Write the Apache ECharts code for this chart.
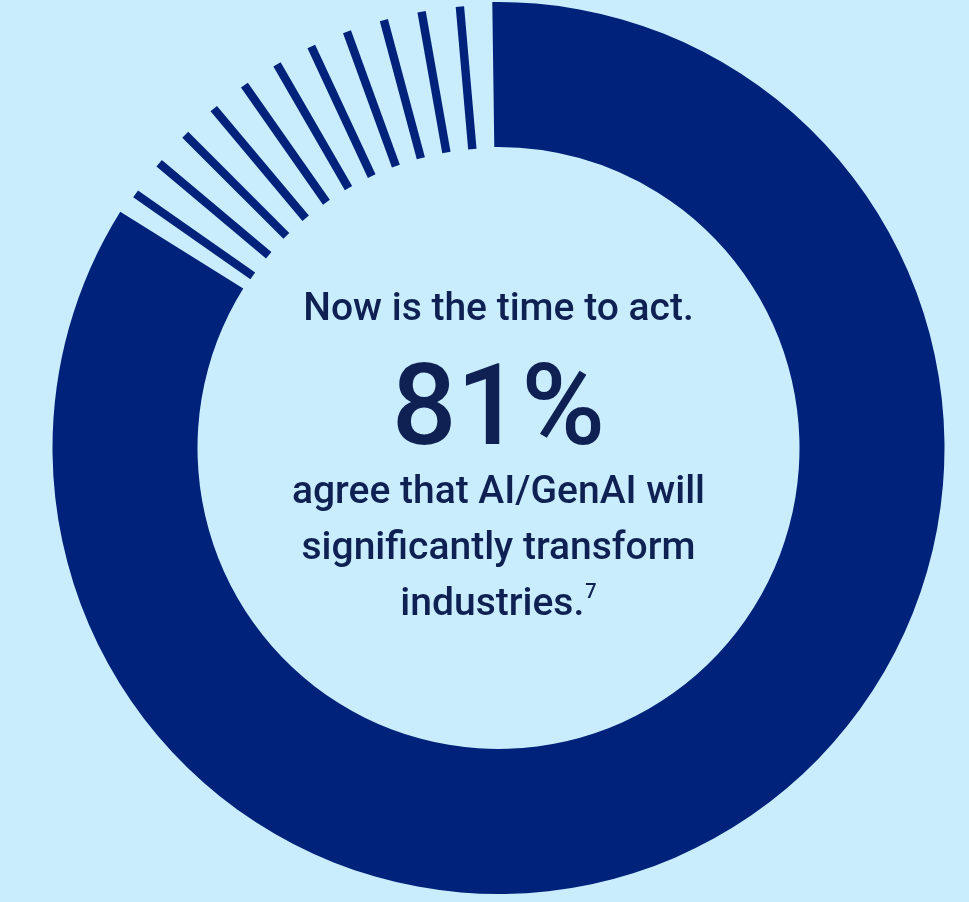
<!DOCTYPE html>
<html>
<head>
<meta charset="utf-8">
<script src="https://cdn.jsdelivr.net/npm/echarts@6/dist/echarts.min.js"></script>
<style>
  html, body { margin: 0; padding: 0; background: #c9edfd; }
  #chart { width: 969px; height: 902px; }
</style>
</head>
<body>
<div id="chart"></div>
<script>
// ---- Data ----
// Ring arcs in degrees (clockwise from 12 o'clock)
const ringNames = ['Solid', 'Striped'];
const ringDegrees = [302.8, 57.2];
// Angular positions of the thin stripes (clockwise degrees from 12 o'clock)
const stripeAngles = [355, 350, 345, 340, 335, 330, 325, 320, 315, 310, 305];
// Texts
const headline = 'Now is the time to act.';
const bigValue = '81%';
const bodyLines = ['agree that AI/GenAI will', 'significantly transform', 'industries.'];
const footnote = '7';

// ---- Styling / layout ----
const NAVY = '#00227a';
const TEXT = '#0f2153';
const BG = '#c9edfd';
const CX = 498.5, CY = 448, R_OUT = 446, R_IN = 301;
const STRIPE_IN = 300, STRIPE_OUT = 443, STRIPE_W = 8.4;
const FONT = 'Roboto, "Noto Sans", sans-serif';

const chart = echarts.init(document.getElementById('chart'), null, { renderer: 'canvas' });

function line(text, y, size) {
  return {
    type: 'text', x: CX, y: y, silent: true,
    style: { text: text, font: '500 ' + size + 'px ' + FONT, fill: TEXT, align: 'center', verticalAlign: 'middle' }
  };
}

const option = {
  backgroundColor: BG,
  animation: false,
  polar: { center: [CX, CY], radius: R_OUT },
  angleAxis: { type: 'value', min: 0, max: 360, startAngle: 90, clockwise: true, show: false },
  radiusAxis: { type: 'value', min: 0, max: R_OUT, show: false },
  series: [
    {
      type: 'pie',
      silent: true,
      center: [CX, CY],
      radius: [R_IN, R_OUT],
      startAngle: 90 + (360 - ringDegrees[0] - ringDegrees[1]) + 0.8,
      clockwise: true,
      label: { show: false },
      labelLine: { show: false },
      data: ringNames.map((n, i) => ({
        name: n,
        value: ringDegrees[i],
        itemStyle: { color: i === 0 ? NAVY : 'rgba(0,0,0,0)' }
      }))
    },
    {
      type: 'custom',
      coordinateSystem: 'polar',
      silent: true,
      data: stripeAngles.map(a => [0, a]),
      renderItem: function (params, api) {
        const a = api.value(1);
        const p0 = api.coord([STRIPE_IN, a]);
        const p1 = api.coord([STRIPE_OUT, a]);
        const dx = p1[0] - p0[0], dy = p1[1] - p0[1];
        const len = Math.sqrt(dx * dx + dy * dy);
        const nx = -dy / len * STRIPE_W / 2, ny = dx / len * STRIPE_W / 2;
        return {
          type: 'polygon',
          shape: {
            points: [
              [p0[0] + nx, p0[1] + ny],
              [p1[0] + nx, p1[1] + ny],
              [p1[0] - nx, p1[1] - ny],
              [p0[0] - nx, p0[1] - ny]
            ]
          },
          style: { fill: NAVY }
        };
      }
    }
  ],
  graphic: [
    line(headline, 310, 39),
    line(bigValue, 415, 114),
    line(bodyLines[0], 493, 39),
    line(bodyLines[1], 549, 39),
    {
      type: 'text', x: CX, y: 605, silent: true,
      style: {
        text: '{m|' + bodyLines[2] + '}{s|' + footnote + '}',
        align: 'center', verticalAlign: 'middle',
        rich: {
          m: { font: '500 39px ' + FONT, fill: TEXT, color: TEXT, lineHeight: 44 },
          s: { font: '500 20px ' + FONT, fill: TEXT, color: TEXT, lineHeight: 30, verticalAlign: 'top', padding: [0, 0, 0, 1] }
        }
      }
    }
  ]
};

chart.setOption(option);
</script>
</body>
</html>
